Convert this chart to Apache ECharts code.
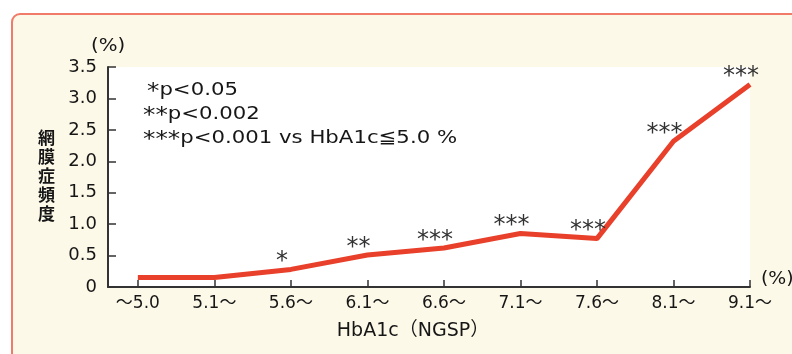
<!DOCTYPE html>
<html><head><meta charset="utf-8">
<script src="https://cdn.jsdelivr.net/npm/echarts@6/dist/echarts.min.js"></script>
<style>html,body{margin:0;padding:0;background:#fff}#c{width:792px;height:354px}</style>
</head><body><div id="c"></div>
<script>
const categories = ['～5.0','5.1～','5.6～','6.1～','6.6～','7.1～','7.6～','8.1～','9.1～'];
const rates = [0.15, 0.15, 0.28, 0.51, 0.62, 0.85, 0.77, 2.32, 3.22];
const marks = ['', '', '*', '**', '***', '***', '***', '***', '***'];
const yTicks = [0, 0.5, 1.0, 1.5, 2.0, 2.5, 3.0, 3.5];
const legendStars = ['*', '**', '***'];
const legendTexts = ['p<0.05', 'p<0.002', 'p<0.001 vs HbA1c≦5.0 %'];

const font = '"DejaVu Sans", "Noto Sans CJK JP", sans-serif';
const starFont = '"DejaVu Sans"';
const ink = '#161616';
const legendItem = (i, x, y) => ({
  type:'text', x:x, y:y, scaleX:1.18,
  style:{text:'{s|'+legendStars[i]+'}{t|'+legendTexts[i]+'}',
    rich:{s:{fontFamily:starFont, fontSize:21, fill:ink, padding:[4,0,0,0]}, t:{fontFamily:font, fontSize:18, fill:ink}}}
});
const chart = echarts.init(document.getElementById('c'), null, {renderer:'canvas'});
chart.setOption({
  animation: false,
  grid: {left:108, top:67, right:42, bottom:67, show:true, backgroundColor:'#ffffff', borderWidth:0},
  graphic: [
    {type:'rect', z:-10, shape:{x:12, y:14, width:800, height:360, r:8},
     style:{fill:'#fdf9e8', stroke:'#ef7b68', lineWidth:2}},
    {type:'text', x:91, y:37, scaleX:1.1, style:{text:'(%)', font:'18px '+font, fill:ink}},
    {type:'text', left:38, top:128, style:{text:'網\n膜\n症\n頻\n度', font:'bold 17px "Noto Sans CJK JP"', lineHeight:19, fill:ink}},
    {type:'text', x:761, y:270, scaleX:1.05, style:{text:'(%)', font:'18px '+font, fill:ink}},
    {type:'text', x:413, y:331, style:{text:'HbA1c（NGSP）', font:'19px '+font, fill:ink, align:'center', verticalAlign:'middle'}},
    legendItem(0, 147, 78),
    legendItem(1, 143, 102),
    legendItem(2, 143, 126)
  ],
  xAxis: {
    type:'value', min:-0.39, max:categories.length-1,
    axisLine:{show:true, lineStyle:{color:'#333', width:2}},
    axisTick:{show:true, inside:true, length:7, customValues:categories.map((c,i)=>i), lineStyle:{color:'#333', width:1.5}},
    axisLabel:{customValues:categories.map((c,i)=>i), formatter:v=>categories[Math.round(v)], color:ink, fontSize:17, fontFamily:font, margin:8},
    splitLine:{show:false}
  },
  yAxis: {
    type:'value', min:0, max:3.5, interval:0.5,
    axisLine:{show:true, onZero:false, lineStyle:{color:'#333', width:2}},
    axisTick:{show:true, inside:true, length:8, lineStyle:{color:'#333', width:1.5}},
    axisLabel:{formatter:v=>{const t=yTicks.find(x=>Math.abs(x-v)<1e-6); return t===0?'0':t.toFixed(1);}, color:ink, fontSize:18, fontFamily:font, margin:11},
    splitLine:{show:false}
  },
  series: [{
    type:'line', data:rates.map((v,i)=>[i,v]), symbol:'circle', symbolSize:1, showSymbol:true,
    itemStyle:{color:'rgba(0,0,0,0)'},
    lineStyle:{color:'#e8402a', width:5},
    label:{show:true, position:'top', distance:2, offset:[-9,7], formatter:p=>marks[p.dataIndex], color:'#333', fontSize:24, fontFamily:starFont}
  }]
});
</script></body></html>
